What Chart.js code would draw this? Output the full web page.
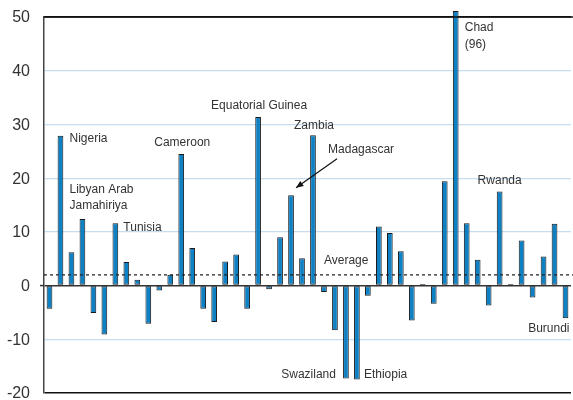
<!DOCTYPE html>
<html>
<head>
<meta charset="utf-8">
<script src="https://cdn.jsdelivr.net/npm/chart.js@4.4.1/dist/chart.umd.min.js"></script>
<style>
html,body{margin:0;padding:0;background:#fff}
#wrap{width:573px;height:400px}
</style>
</head>
<body>
<div id="wrap"><canvas id="c"></canvas></div>
<script>
// countries, only the labelled ones are named in the picture
const countries=['','Nigeria','','Libyan Arab Jamahiriya','','','Tunisia','','','','','','Cameroon','','','','','','','Equatorial Guinea',
 '','','Madagascar','','Zambia','','','Swaziland','Ethiopia','','','','','','','','','Chad','','',
 '','Rwanda','','','','','','Burundi'];
const values=[-4.3,27.9,6.2,12.4,-5.1,-9.1,11.6,4.4,1.1,-7.1,
 -0.9,2.0,24.5,7.0,-4.3,-6.8,4.5,5.8,-4.3,31.4,
 -0.7,9.0,16.8,5.1,28.0,-1.2,-8.3,-17.3,-17.5,-1.9,
 11.0,9.8,6.4,-6.5,0.3,-3.4,19.4,51.1,11.6,4.8,
 -3.7,17.5,0.3,8.4,-2.2,5.4,11.5,-6.1];
const chadActual=96; // bar is cut off at the top
const average=2;
const yTicks=[50,40,30,20,10,0,-10,-20];

// text callouts: bar index, pixel shift, y value, alignment
const notes=[
  {t:'Nigeria',i:1,dx:9,y:27.3,a:'left'},
  {t:'Libyan Arab',i:1,dx:9,y:17.8,a:'left'},
  {t:'Jamahiriya',i:1,dx:9,y:14.9,a:'left'},
  {t:'Tunisia',i:6,dx:8,y:10.8,a:'left'},
  {t:'Cameroon',i:12,dx:1,y:26.6,a:'center'},
  {t:'Equatorial Guinea',i:19,dx:1,y:33.5,a:'center'},
  {t:'Zambia',i:24,dx:1,y:29.7,a:'center'},
  {t:'Madagascar',i:22,dx:37,y:25.3,a:'left'},
  {t:'Chad',i:37,dx:9,y:48,a:'left'},
  {t:'('+chadActual+')',i:37,dx:9,y:44.8,a:'left'},
  {t:'Rwanda',i:41,dx:0,y:19.5,a:'center'},
  {t:'Average',i:25,dx:0,y:4.6,a:'left'},
  {t:'Swaziland',i:27,dx:-10,y:-16.5,a:'right'},
  {t:'Ethiopia',i:28,dx:7,y:-16.5,a:'left'},
  {t:'Burundi',i:47,dx:4,y:-8,a:'right'}
];

const extras={
  id:'extras',
  afterDatasetsDraw(chart){
    const c=chart.ctx, x=chart.scales.x, y=chart.scales.y, ca=chart.chartArea;
    c.save();
    // y tick labels
    c.fillStyle='#333';
    c.font='16px "Liberation Sans", Arial, sans-serif';
    c.textAlign='right';
    c.textBaseline='middle';
    yTicks.forEach(v=>c.fillText(String(v),ca.left-14,y.getPixelForValue(v)+1));
    // small tick at zero
    c.strokeStyle='#333';
    c.lineWidth=1.5;
    c.beginPath();
    c.moveTo(ca.left-4,y.getPixelForValue(0));
    c.lineTo(ca.left,y.getPixelForValue(0));
    c.stroke();
    // average line
    c.strokeStyle='#222';
    c.lineWidth=1.3;
    c.setLineDash([3,3]);
    c.beginPath();
    c.moveTo(ca.left,y.getPixelForValue(average));
    c.lineTo(chart.width,y.getPixelForValue(average));
    c.stroke();
    c.setLineDash([]);
    // top line
    c.strokeStyle='#111';
    c.lineWidth=1.5;
    c.beginPath();
    c.moveTo(ca.left,y.getPixelForValue(50));
    c.lineTo(chart.width,y.getPixelForValue(50));
    c.stroke();
    // labels
    c.fillStyle='#333';
    c.font='12px "Liberation Sans", Arial, sans-serif';
    c.textBaseline='middle';
    notes.forEach(n=>{
      c.textAlign=n.a;
      c.fillText(n.t,x.getPixelForValue(n.i)+n.dx,y.getPixelForValue(n.y));
    });
    // arrow to Madagascar
    const x1=x.getPixelForValue(22)+46, y1=y.getPixelForValue(23.6);
    const x2=x.getPixelForValue(22)+5, y2=y.getPixelForValue(18.2);
    c.strokeStyle='#111';
    c.lineWidth=1.2;
    c.beginPath();
    c.moveTo(x1,y1);
    c.lineTo(x2,y2);
    c.stroke();
    const ang=Math.atan2(y2-y1,x2-x1);
    c.fillStyle='#111';
    c.beginPath();
    c.moveTo(x2,y2);
    c.lineTo(x2-8*Math.cos(ang-0.4),y2-8*Math.sin(ang-0.4));
    c.lineTo(x2-8*Math.cos(ang+0.4),y2-8*Math.sin(ang+0.4));
    c.closePath();
    c.fill();
    c.restore();
  }
};

new Chart(document.getElementById('c'),{
  type:'bar',
  data:{
    labels:countries,
    datasets:[{
      data:values,
      backgroundColor:'#0e80c4',
      borderColor:'#1a1a1a',
      borderWidth:1,
      borderSkipped:false,
      barPercentage:0.52,
      categoryPercentage:1,
      clip:false
    }]
  },
  options:{
    responsive:true,
    maintainAspectRatio:false,
    animation:false,
    layout:{padding:{top:17,bottom:7,left:0,right:2}},
    plugins:{legend:{display:false},tooltip:{enabled:false}},
    scales:{
      x:{display:false,grid:{display:false}},
      y:{
        min:-20,max:50,
        afterFit:s=>{s.width=44;},
        afterBuildTicks:s=>{s.ticks=yTicks.map(v=>({value:v}));},
        ticks:{display:false},
        border:{color:'#444',width:1.5},
        grid:{
          drawTicks:false,
          color:ctx=>{
            const v=ctx.tick.value;
            if(v===0) return '#333';
            if(v===-20||v===50) return '#111';
            return '#c8dcef';
          },
          lineWidth:ctx=>{
            const v=ctx.tick.value;
            return (v===0||v===-20||v===50)?1.5:1.2;
          }
        }
      }
    }
  },
  plugins:[extras]
});
</script>
</body>
</html>
